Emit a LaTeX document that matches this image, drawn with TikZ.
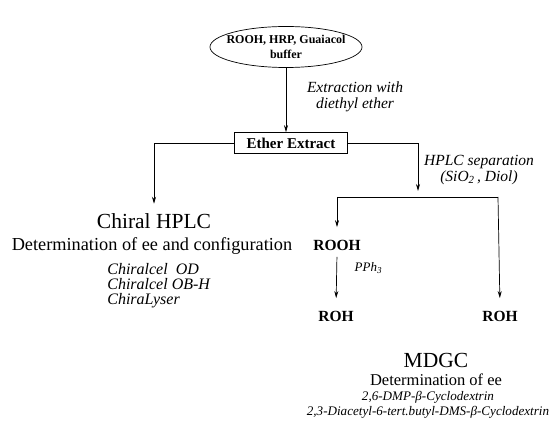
\documentclass[tikz,border=0pt]{standalone}
\usepackage{fontspec}
\setmainfont{Liberation Serif}
\usetikzlibrary{arrows.meta,shapes.geometric}

\begin{document}
\begin{tikzpicture}[x=1pt,y=-1pt,line width=0.7pt,>={Stealth[length=7pt,width=4pt]},
  lab/.style={font=\itshape\fontsize{15.5}{16}\selectfont,align=center},
  cmpd/.style={font=\bfseries\fontsize{15.5}{16}\selectfont},
  head/.style={font=\fontsize{21.5}{23}\selectfont},
  txt/.style={font=\fontsize{18.3}{20}\selectfont}]
\useasboundingbox (0,0) rectangle (560,427);
\node[ellipse,draw,inner xsep=-14pt,inner ysep=0pt,minimum width=152,minimum height=41,align=center,
  font=\bfseries\fontsize{12}{15}\selectfont] (src) at (286,47) {ROOH, HRP, Guaiacol\\buffer};
\node[draw,font=\bfseries\fontsize{15}{16}\selectfont,minimum width=113,minimum height=21] (ext) at (291,143) {Ether Extract};
\draw[->] (src.south) -- (src.south |- ext.north);
\node[lab] (xlab) at (355,97) {Extraction with\\diethyl ether};
\coordinate (lc) at (154,143);
\coordinate (rc) at (418,143);
\node[head] (chiral) at (154,221) {Chiral HPLC};
\draw[->,shorten >=6pt] (ext.west) -- (lc) -- (chiral.north);
\node[txt] (detA) at (152,246) {Determination of ee and configuration};
\node[lab,font=\itshape\fontsize{16}{15}\selectfont,align=left,anchor=north west,inner sep=0pt] (cols) at (107,263) {Chiralcel~~OD\\Chiralcel OB-H\\ChiraLyser};
\coordinate (sp) at (418,197);
\draw[->,shorten >=6pt] (ext.east) -- (rc) -- (sp);
\node[lab] (hlab) at (479,170) {HPLC separation\\(SiO\textsubscript{2}\,, Diol)};
\coordinate (sl) at (337,197);
\coordinate (sr) at (498,197);
\node[cmpd] (rooh) at (337,245) {ROOH};
\node[cmpd] (roh1) at (336,316) {ROH};
\node[cmpd] (roh2) at (500,316) {ROH};
\draw (sl) -- (sr);
\draw[->,shorten >=9pt] (sl) -- (rooh.north);
\draw[->,shorten >=9pt] (sr) -- (roh2.north);
\draw[->,shorten >=9pt,shorten <=3pt] (rooh.south) -- (roh1.north);
\node[lab,font=\itshape\fontsize{13}{14}\selectfont,anchor=west] (pph) at (351,268) {PPh\textsubscript{3}};
\node[head] (mdgc) at (436,360) {MDGC};
\node[txt,font=\fontsize{16.5}{18}\selectfont] (detB) at (436,380) {Determination of ee};
\node[lab,font=\itshape\fontsize{13.1}{15.5}\selectfont] (cds) at (428,405) {2,6-DMP-β-Cyclodextrin\\2,3-Diacetyl-6-tert.butyl-DMS-β-Cyclodextrin};
\end{tikzpicture}
\end{document}
